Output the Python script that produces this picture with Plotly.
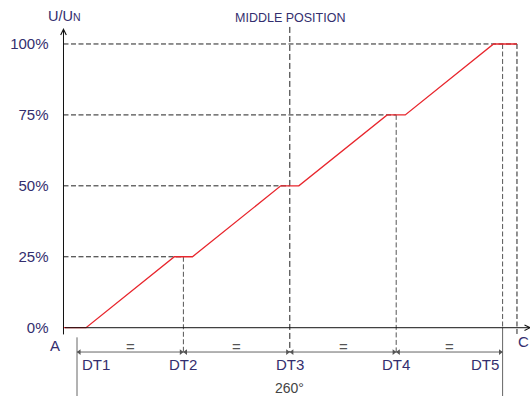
import plotly.graph_objects as go

# ---- data ----
dt_positions = [0, 1, 2, 3, 4]
dt_labels = ["DT1", "DT2", "DT3", "DT4", "DT5"]
levels = [0, 25, 50, 75, 100]
level_labels = ["0%", "25%", "50%", "75%", "100%"]
dwell_half = 0.085          # half width of each dwell (flat) zone, in steps
pos_A = -0.127              # start of travel (A)
pos_C = 4.135               # end of travel (C)
middle_label = "MIDDLE POSITION"
angle_label = "260°"

NAVY = "#332e6e"
FONT = "Liberation Sans, Arial, sans-serif"
RED = "#e8262d"

X_RANGE = [-0.7237, 4.2575]
Y_RANGE = [-24.07, 115.5]
DIM_Y = -8.57       # dimension line
TOP_MID = 106.0
BOTTOM = Y_RANGE[0]

fig = go.Figure()

# red characteristic
xs, ys = [pos_A], [levels[0]]
for i, (p, l) in enumerate(zip(dt_positions, levels)):
    if i > 0:
        xs.append(p - dwell_half); ys.append(l)
    if i < len(dt_positions) - 1:
        xs.append(p + dwell_half); ys.append(l)
xs.append(pos_C); ys.append(levels[-1])

shapes = []
def seg(x0, y0, x1, y1, color="#222", dash="5px,2.5px", width=1):
    shapes.append(dict(type="line", xref="x", yref="y", x0=x0, y0=y0, x1=x1, y1=y1,
                       line=dict(color=color, width=width, dash=dash), layer="below"))

# horizontal dashed reference lines
for i in range(1, len(levels)):
    end = dt_positions[i] if i < len(levels) - 1 else pos_C
    seg(pos_A, levels[i], end, levels[i])

# vertical dashed lines
seg(dt_positions[1], levels[1], dt_positions[1], DIM_Y, color="#555", dash="5px,2.5px")
seg(dt_positions[2], TOP_MID, dt_positions[2], DIM_Y, color="#222", dash="6px,3px")
seg(dt_positions[3], levels[3], dt_positions[3], DIM_Y, color="#555", dash="5px,2.5px")
seg(dt_positions[4], levels[4], dt_positions[4], levels[0], color="#555", dash="5px,2.5px")
seg(pos_C, levels[4], pos_C, -2.9, color="#222", dash="5px,2.5px")
# solid extension lines
seg(dt_positions[0], -3.4, dt_positions[0], BOTTOM, color="#666", dash="solid")
seg(dt_positions[4], levels[0], dt_positions[4], BOTTOM, color="#666", dash="solid")
# dimension line
seg(dt_positions[0], DIM_Y, dt_positions[4], DIM_Y, color="#666", dash="solid")

fig.add_trace(go.Scatter(x=xs, y=ys, mode="lines", line=dict(color=RED, width=1.3),
                         hoverinfo="skip", showlegend=False))

# arrowheads on dimension line
off = 0.022
ax_r, ax_l = [], []
for i, p in enumerate(dt_positions):
    if i > 0:
        ax_r.append(p - off)
    if i < len(dt_positions) - 1:
        ax_l.append(p + off)
fig.add_trace(go.Scatter(x=ax_r, y=[DIM_Y] * len(ax_r), mode="markers",
                         marker=dict(symbol="triangle-right", size=5, color="#555"),
                         hoverinfo="skip", showlegend=False))
fig.add_trace(go.Scatter(x=ax_l, y=[DIM_Y] * len(ax_l), mode="markers",
                         marker=dict(symbol="triangle-left", size=5, color="#555"),
                         hoverinfo="skip", showlegend=False))

annotations = []
# axes with arrows
annotations.append(dict(x=pos_A, y=105.6, ax=pos_A, ay=-2.9, xref="x", yref="y",
                        axref="x", ayref="y", text="", showarrow=True, arrowhead=5,
                        arrowsize=1.1, arrowwidth=1, arrowcolor="#111", standoff=0))
annotations.append(dict(x=4.27, y=0, ax=pos_A, ay=0, xref="x", yref="y",
                        axref="x", ayref="y", text="", showarrow=True, arrowhead=5,
                        arrowsize=1.1, arrowwidth=1, arrowcolor="#111", standoff=0))

# DT labels
for i, (p, t) in enumerate(zip(dt_positions, dt_labels)):
    if i == 0:
        xa, xx = "left", p + 0.03
    elif i == len(dt_positions) - 1:
        xa, xx = "right", p - 0.015
    else:
        xa, xx = "center", p
    annotations.append(dict(x=xx, y=-13.1, xref="x", yref="y", text=t, showarrow=False,
                            xanchor=xa, yanchor="middle",
                            font=dict(family=FONT, size=15, color=NAVY)))
# "=" signs
for a, b in zip(dt_positions[:-1], dt_positions[1:]):
    annotations.append(dict(x=(a + b) / 2, y=-6.5, xref="x", yref="y", text="=",
                            showarrow=False, yanchor="middle",
                            font=dict(family=FONT, size=15, color="#555")))

annotations += [
    dict(x=dt_positions[2], y=-21.2, xref="x", yref="y", text=angle_label, showarrow=False,
         yanchor="middle", font=dict(family=FONT, size=14, color="#444")),
    dict(x=dt_positions[2], y=109.3, xref="x", yref="y", text=middle_label, showarrow=False,
         yanchor="middle", font=dict(family=FONT, size=12.5, color=NAVY)),
    dict(x=-0.115, y=109.9, xref="x", yref="y",
         text="U/U<span style='font-size:10.5px'>N</span>", showarrow=False,
         yanchor="middle", font=dict(family=FONT, size=14.5, color=NAVY)),
    dict(x=-0.207, y=-6.27, xref="x", yref="y", text="A", showarrow=False,
         yanchor="middle", font=dict(family=FONT, size=15, color=NAVY)),
    dict(x=4.196, y=-4.86, xref="x", yref="y", text="C", showarrow=False,
         yanchor="middle", font=dict(family=FONT, size=15, color=NAVY)),
]

fig.update_layout(
    width=530, height=396,
    margin=dict(l=0, r=0, t=0, b=0, autoexpand=False),
    paper_bgcolor="white", plot_bgcolor="white",
    showlegend=False,
    hovermode=False,
    shapes=shapes,
    annotations=annotations,
    xaxis=dict(range=X_RANGE, visible=False, domain=[0, 1], fixedrange=True),
    yaxis=dict(range=Y_RANGE, anchor="free", position=63.5 / 530, fixedrange=True,
               showgrid=False, zeroline=False, showline=False, ticks="",
               tickvals=levels, ticktext=level_labels, ticklabelstandoff=15,
               tickfont=dict(family=FONT, size=15, color=NAVY)),
)

fig.write_html("out.html", config={"displayModeBar": False, "staticPlot": True},
               post_script="document.body.style.margin='0';document.body.style.overflow='hidden';")
